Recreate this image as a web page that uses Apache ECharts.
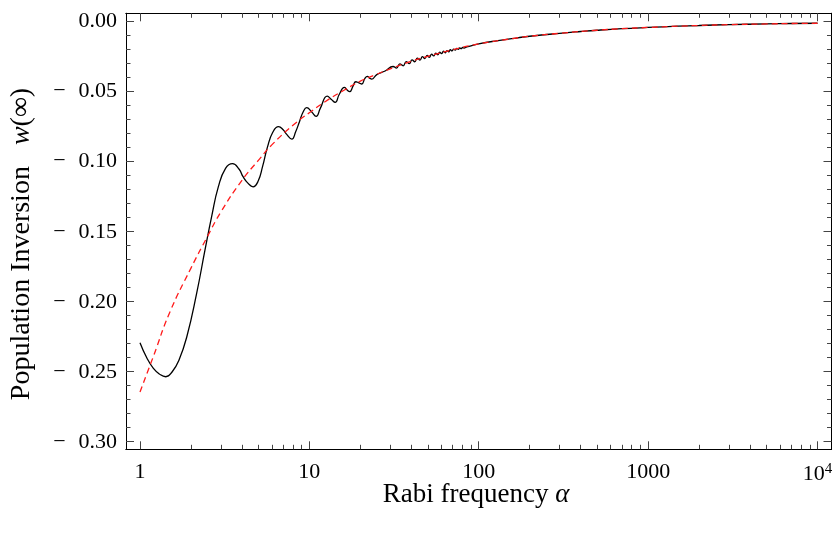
<!DOCTYPE html>
<html><head><meta charset="utf-8">
<script src="https://cdn.jsdelivr.net/npm/echarts@6/dist/echarts.min.js"></script>
<style>html,body{margin:0;padding:0;background:#fff}#c{width:840px;height:539px}</style>
</head><body><div id="c"></div>
<script>
// Exact solution w(inf) vs Rabi frequency alpha (black solid)
const alphaExact = [1.00,1.10,1.20,1.30,1.42,1.55,1.70,1.89,2.16,2.42,2.65,2.90,3.20,3.52,3.85,4.06,4.35,4.65,4.98,5.30,5.65,6.08,6.58,7.00,7.35,7.88,8.30,8.74,9.20,9.65,10.3,10.96,11.6,12.75,13.5,14.2,15.0,16.1,16.7,17.3,18.1,18.8,19.6,20.4,21.2,22.0,22.7,23.3,25.0,28.0,
 31.2,32.7,34.2,35.8,37.3,38.9,40.4,41.9,43.4,45.0,46.5,48.0,49.6,51.1,52.7,54.2,55.7,57.3,58.8,60.3,61.9,63.4,64.9,66.5,68.0,69.5,71.1,72.6,74.2,75.7,77.2,78.8,80.3,81.8,
 85,90,100,130,170,200,300,400,500,700,1000,1500,2000,3000,5000,7000,10000];
const wExact = [-0.2293,-0.2404,-0.2476,-0.2516,-0.2536,-0.2500,-0.2416,-0.2250,-0.1940,-0.1630,-0.1390,-0.1180,-0.1047,-0.1014,-0.1054,-0.1107,-0.1155,-0.1179,-0.1140,-0.1032,-0.0898,-0.0790,-0.0750,-0.0772,-0.0805,-0.0838,-0.0786,-0.0714,-0.0643,-0.0614,-0.0643,-0.0676,-0.0619,-0.0531,-0.0556,-0.0576,-0.0520,-0.0469,-0.0488,-0.0500,-0.0460,-0.0429,-0.0437,-0.0445,-0.0408,-0.0390,-0.0403,-0.0410,-0.0378,-0.0352,
 -0.0320,-0.0331,-0.0301,-0.0315,-0.0285,-0.0300,-0.0272,-0.0286,-0.0260,-0.0274,-0.0250,-0.0263,-0.0240,-0.0254,-0.0232,-0.0244,-0.0224,-0.0236,-0.0218,-0.0228,-0.0211,-0.0222,-0.0206,-0.0215,-0.0200,-0.0209,-0.0196,-0.0203,-0.0191,-0.0198,-0.0187,-0.0193,-0.0184,-0.0188,
 -0.0180,-0.0173,-0.0158,-0.0135,-0.0115,-0.0104,-0.0083,-0.0070,-0.0061,-0.0050,-0.0041,-0.0032,-0.0027,-0.0021,-0.0016,-0.0013,-0.0011];
// Approximate (averaged) curve (red dashed)
const alphaApprox = [1,1.2,1.5,2,2.5,3,4,5,6,8,10,13,16,20,25,30,40,50,70,100,150,200,300,500,700,1000,1500,2000,3000,5000,7000,10000];
const wApprox = [-0.2645,-0.2390,-0.2075,-0.1760,-0.1535,-0.1360,-0.1133,-0.0990,-0.0880,-0.0740,-0.0650,-0.0555,-0.0490,-0.0425,-0.0375,-0.0337,-0.0282,-0.0247,-0.0201,-0.0158,-0.0125,-0.0104,-0.0083,-0.0061,-0.0050,-0.0041,-0.0032,-0.0027,-0.0021,-0.0016,-0.0013,-0.0011];
// Axes
const xMajorTicks = [1,10,100,1000,10000];
const xMinorTicks = [2,3,4,5,6,7,8,9,20,30,40,50,60,70,80,90,200,300,400,500,600,700,800,900,2000,3000,4000,5000,6000,7000,8000,9000];
const yMajorTicks = [0,-0.05,-0.10,-0.15,-0.20,-0.25,-0.30];
const yMinorTicks = [-0.01,-0.02,-0.03,-0.04,-0.06,-0.07,-0.08,-0.09,-0.11,-0.12,-0.13,-0.14,-0.16,-0.17,-0.18,-0.19,-0.21,-0.22,-0.23,-0.24,-0.26,-0.27,-0.28,-0.29];
const xTitle = 'Rabi frequency {i|α}';
const yTitle = 'Population Inversion   {i|w}(∞)';

const FONT = 'Liberation Serif';
const X_MIN = 0.8268, X_MAX = 12095, Y_MIN = -0.3054, Y_MAX = 0.006;
const tickColor = '#444';

function xAxisDef(pos, ticks, len, labels) {
  return {
    type: 'log', logBase: 10, min: X_MIN, max: X_MAX, position: pos,
    axisLine: { show: true, onZero: false, lineStyle: { color: '#000', width: 1 } },
    axisTick: { show: true, inside: true, length: len, customValues: ticks, lineStyle: { color: tickColor, width: 1 } },
    minorTick: { show: false },
    splitLine: { show: false },
    axisLabel: labels ? {
      show: true, customValues: xMajorTicks, margin: 12, color: '#000', fontSize: 22, fontFamily: FONT,
      formatter: v => (Math.abs(v - 10000) < 1 ? '10{sup|4}' : String(Math.round(v))),
      rich: { sup: { fontSize: 15, fontFamily: FONT, color: '#000', verticalAlign: 'top', padding: [0, 0, 10, 0] } }
    } : { show: false }
  };
}
function yAxisDef(pos, ticks, len, labels) {
  return {
    type: 'value', min: Y_MIN, max: Y_MAX, position: pos,
    axisLine: { show: true, onZero: false, lineStyle: { color: '#000', width: 1 } },
    axisTick: { show: true, inside: true, length: len, customValues: ticks, lineStyle: { color: tickColor, width: 1 } },
    splitLine: { show: false },
    axisLabel: labels ? {
      show: true, customValues: yMajorTicks, margin: 9, color: '#000', fontSize: 22, fontFamily: FONT,
      formatter: v => (Math.abs(v) < 1e-9 ? '0.00' : '\u2212\u2002\u200A' + Math.abs(v).toFixed(2))
    } : { show: false }
  };
}

const chart = echarts.init(document.getElementById('c'), null, { renderer: 'canvas' });
chart.setOption({
  animation: false,
  backgroundColor: '#fff',
  grid: { left: 126, right: 8.5, top: 13.3, bottom: 89.7, containLabel: false },
  xAxis: [
    xAxisDef('bottom', xMajorTicks, 8, true),
    xAxisDef('bottom', xMinorTicks, 4.5, false),
    xAxisDef('top', xMajorTicks, 8, false),
    xAxisDef('top', xMinorTicks, 4.5, false)
  ],
  yAxis: [
    yAxisDef('left', yMajorTicks, 8, true),
    yAxisDef('left', yMinorTicks, 4.5, false),
    yAxisDef('right', yMajorTicks, 8, false),
    yAxisDef('right', yMinorTicks, 4.5, false)
  ],
  series: [
    {
      type: 'line', xAxisIndex: 0, yAxisIndex: 0, symbol: 'none', smooth: 0.5,
      data: alphaExact.map((a, i) => [a, wExact[i]]),
      lineStyle: { color: '#000', width: 1.3 }
    },
    {
      type: 'line', xAxisIndex: 0, yAxisIndex: 0, symbol: 'none', smooth: 0.5,
      data: alphaApprox.map((a, i) => [a, wApprox[i]]),
      lineStyle: { color: '#ff1a1a', width: 1.3, type: [6, 4] }
    }
  ],
  graphic: [
    { type: 'text', x: 476, y: 495, style: { text: xTitle, fill: '#000', fontSize: 27, fontFamily: FONT, align: 'center', verticalAlign: 'middle',
      rich: { i: { fontStyle: 'italic', fontSize: 27, fontFamily: FONT, fill: '#000' } } } },
    { type: 'text', x: 22, y: 244, rotation: Math.PI / 2, style: { text: yTitle, fill: '#000', fontSize: 28, fontFamily: FONT, align: 'center', verticalAlign: 'middle',
      rich: { i: { fontStyle: 'italic', fontSize: 28, fontFamily: FONT, fill: '#000' } } } }
  ]
});
</script></body></html>
